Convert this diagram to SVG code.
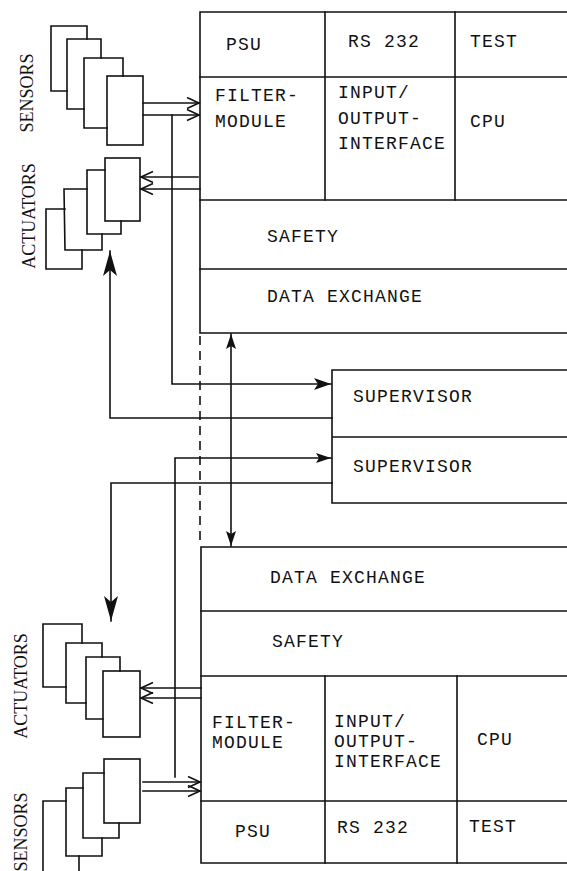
<svg xmlns="http://www.w3.org/2000/svg" width="567" height="871" viewBox="0 0 567 871">
<style>
  .ln { fill: none; stroke: #111; stroke-width: 1.6; stroke-linejoin: miter; stroke-linecap: square; }
  .box { fill: none; stroke: #111; stroke-width: 1.6; }
  .dash { fill: none; stroke: #111; stroke-width: 1.6; stroke-dasharray: 9 6; }
  .t { font-family: "Liberation Mono", "DejaVu Sans Mono", monospace; font-size: 18px; letter-spacing: 1.2px; fill: #111; }
  .v { font-family: "Liberation Serif", "DejaVu Serif", serif; font-size: 18px; fill: #111; text-anchor: middle; }
</style>
<defs>
  <marker id="open" markerUnits="userSpaceOnUse" markerWidth="16" markerHeight="14" refX="13" refY="6" orient="auto">
    <path d="M1,0.5 L13,6 L1,11.5" fill="none" stroke="#111" stroke-width="1.6"/>
  </marker>
  <marker id="fill" markerUnits="userSpaceOnUse" markerWidth="20" markerHeight="14" refX="17" refY="6" orient="auto">
    <path d="M0,0 L17,6 L0,12 L4,6 z" fill="#111"/>
  </marker>
  <marker id="fillL" markerUnits="userSpaceOnUse" markerWidth="28" markerHeight="16" refX="25" refY="7" orient="auto">
    <path d="M0,0 L25,7 L0,14 L6,7 z" fill="#111"/>
  </marker>
  <marker id="fillS" markerUnits="userSpaceOnUse" markerWidth="18" markerHeight="12" refX="15" refY="5" orient="auto-start-reverse">
    <path d="M0,0 L15,5 L0,10 L3,5 z" fill="#111"/>
  </marker>
</defs>

<rect width="567" height="871" fill="#fff"/>

<!-- Top unit -->
<g id="unit-top">
  <path class="ln" d="M567,12 L200,12 L200,333 L567,333"/>
  <path class="ln" d="M200,77 L567,77 M200,200 L567,200 M200,269 L567,269"/>
  <path class="ln" d="M325,12 L325,200 M455,12 L455,200"/>
  <text class="t" x="226" y="50">PSU</text>
  <text class="t" x="348" y="47">RS 232</text>
  <text class="t" x="470" y="47">TEST</text>
  <text class="t" x="215" y="101">FILTER-</text>
  <text class="t" x="215" y="127">MODULE</text>
  <text class="t" x="338" y="98">INPUT/</text>
  <text class="t" x="338" y="124">OUTPUT-</text>
  <text class="t" x="338" y="149">INTERFACE</text>
  <text class="t" x="470" y="127">CPU</text>
  <text class="t" x="267" y="242">SAFETY</text>
  <text class="t" x="267" y="302">DATA EXCHANGE</text>
</g>

<!-- Supervisors -->
<g id="supervisor">
  <path class="ln" d="M567,370 L332,370 L332,503 L567,503 M332,437 L567,437"/>
  <text class="t" x="353" y="402">SUPERVISOR</text>
  <text class="t" x="353" y="472">SUPERVISOR</text>
</g>

<!-- Bottom unit -->
<g id="unit-bottom">
  <path class="ln" d="M567,547 L201,547 L201,863 L567,863"/>
  <path class="ln" d="M201,611 L567,611 M201,676 L567,676 M201,801 L567,801"/>
  <path class="ln" d="M325,676 L325,863 M457,676 L457,863"/>
  <text class="t" x="270" y="583">DATA EXCHANGE</text>
  <text class="t" x="272" y="647">SAFETY</text>
  <text class="t" x="212" y="728">FILTER-</text>
  <text class="t" x="212" y="748">MODULE</text>
  <text class="t" x="334" y="727">INPUT/</text>
  <text class="t" x="334" y="747">OUTPUT-</text>
  <text class="t" x="334" y="767">INTERFACE</text>
  <text class="t" x="477" y="745">CPU</text>
  <text class="t" x="235" y="837">PSU</text>
  <text class="t" x="337" y="833">RS 232</text>
  <text class="t" x="469" y="832">TEST</text>
</g>

<!-- Top sensors -->
<g id="sensors-top">
  <path class="ln" d="M67,91 L51,91 L51,26 L87,26 L87,39"/>
  <path class="ln" d="M84,109 L67,109 L67,39 L101,39 L101,58"/>
  <path class="ln" d="M107,128 L84,128 L84,58 L123,58 L123,76"/>
  <rect class="box" x="107" y="76" width="36" height="69"/>
  <text class="v" transform="translate(33,93) rotate(-90)">SENSORS</text>
</g>

<!-- Top actuators -->
<g id="actuators-top">
  <path class="ln" d="M65,209 L46,209 L46,269 L82,269 L82,250"/>
  <path class="ln" d="M87,189 L64,189 L65,250 L102,250 L102,234"/>
  <path class="ln" d="M105,170 L87,170 L87,234 L121,234 L121,221"/>
  <rect class="box" x="105" y="158" width="35" height="63"/>
  <text class="v" transform="translate(35,216) rotate(-90)">ACTUATORS</text>
</g>

<!-- Bottom actuators -->
<g id="actuators-bottom">
  <path class="ln" d="M66,687 L43,687 L43,624 L82,624 L82,643"/>
  <path class="ln" d="M86,703 L66,703 L66,643 L102,643 L102,657"/>
  <path class="ln" d="M103,719 L86,719 L86,657 L120,657 L120,671"/>
  <rect class="box" x="103" y="671" width="37" height="66"/>
  <text class="v" transform="translate(27,686) rotate(-90)">ACTUATORS</text>
</g>

<!-- Bottom sensors -->
<g id="sensors-bottom">
  <path class="ln" d="M66,801 L43,801 L43,880 M79,856 L79,880"/>
  <path class="ln" d="M83,788 L66,788 L66,856 L102,856 L102,838"/>
  <path class="ln" d="M104,773 L83,773 L83,838 L119,838 L119,823"/>
  <rect class="box" x="104" y="759" width="36" height="64"/>
  <text class="v" transform="translate(27,832) rotate(-90)">SENSORS</text>
</g>

<!-- Connectors -->
<g id="connectors">
  <!-- top sensors to unit -->
  <line class="ln" x1="143" y1="103" x2="199" y2="103" marker-end="url(#open)"/>
  <line class="ln" x1="143" y1="115" x2="199" y2="115" marker-end="url(#open)"/>
  <!-- unit to top actuators -->
  <line class="ln" x1="198" y1="177" x2="141" y2="177" marker-end="url(#open)"/>
  <line class="ln" x1="200" y1="189" x2="141" y2="189" marker-end="url(#open)"/>
  <!-- top sensors to supervisor -->
  <path class="ln" d="M172,115 L172,384 L331,384" marker-end="url(#fill)"/>
  <!-- supervisor to top actuators -->
  <path class="ln" d="M332,418 L110,418 L110,251" marker-end="url(#fillL)"/>
  <!-- bottom sensors to supervisor -->
  <path class="ln" d="M175,777 L175,458 L331,458" marker-end="url(#fillS)"/>
  <!-- supervisor to bottom actuators -->
  <path class="ln" d="M332,483 L111,483 L111,621" marker-end="url(#fillL)"/>
  <!-- dashed link between units -->
  <line class="dash" x1="200" y1="336" x2="200" y2="545"/>
  <!-- data exchange double arrow -->
  <line class="ln" x1="231" y1="334" x2="231" y2="546" marker-start="url(#fillS)" marker-end="url(#fillS)"/>
  <!-- unit to bottom actuators -->
  <line class="ln" x1="201" y1="688" x2="141" y2="688" marker-end="url(#open)"/>
  <line class="ln" x1="201" y1="698" x2="141" y2="698" marker-end="url(#open)"/>
  <!-- bottom sensors to unit -->
  <line class="ln" x1="143" y1="782" x2="200" y2="782" marker-end="url(#open)"/>
  <line class="ln" x1="143" y1="791" x2="200" y2="791" marker-end="url(#open)"/>
</g>
</svg>
